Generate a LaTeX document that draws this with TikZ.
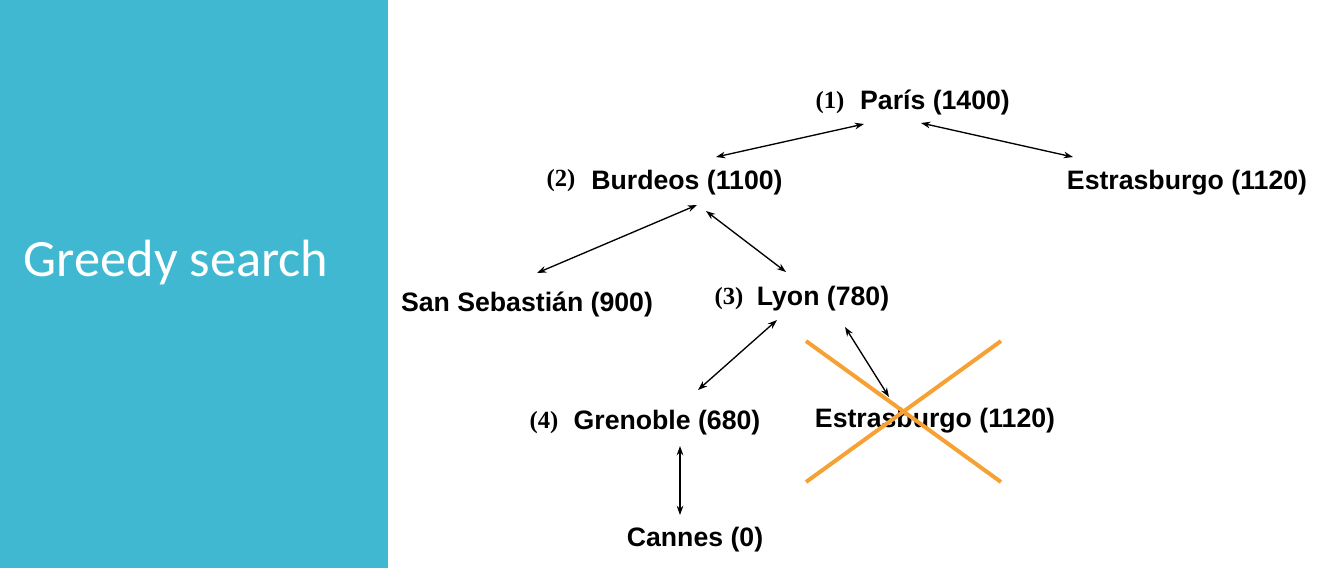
\documentclass[tikz,border=0pt]{standalone}
\usepackage{fontspec}
\usepackage{tikz}
\usepackage{xcolor}
\usetikzlibrary{arrows.meta}
\setmainfont{Liberation Sans}
\newfontfamily\numfont{Liberation Serif}
\newfontfamily\titlefont{Carlito}
\definecolor{panelblue}{HTML}{41B8D2}
\definecolor{crossorange}{HTML}{F7A034}

\tikzset{
	city/.style={font=\fontsize{20}{22}\selectfont\bfseries, inner sep=0pt, text height=14pt, text depth=0pt},
	order/.style={font=\numfont\fontsize{18.5}{20}\selectfont\bfseries, inner sep=0pt, text height=13pt, text depth=0pt},
	link/.style={{Stealth[length=7pt,width=5pt]}-{Stealth[length=7pt,width=5pt]}, line width=1pt},
	cross/.style={crossorange, line width=3pt},
}

\begin{document}
\begin{tikzpicture}[x=0.75pt,y=-0.75pt]
			\useasboundingbox (0,0) rectangle (1342,568);
			\fill[panelblue] (0,0) rectangle (388,568);
			\node[text=white, font=\titlefont\fontsize{39.3}{44}\selectfont] (title) at (176,263) {Greedy search};
			% cities with heuristic values
			\node[city] (paris) at (935,100) {París (1400)};
			\node[city] (burdeos) at (687,180) {Burdeos (1100)};
			\node[city] (estrA) at (1187,180) {Estrasburgo (1120)};
			\node[city] (sanseb) at (527,302) {San Sebastián (900)};
			\node[city] (lyon) at (823,296) {Lyon (780)};
			\node[city] (grenoble) at (667,420) {Grenoble (680)};
			\node[city] (estrB) at (935,418) {Estrasburgo (1120)};
			\node[city] (cannes) at (695,537) {Cannes (0)};
			% expansion order
			\node[order] (o1) at (830,100) {(1)};
			\node[order] (o2) at (561,178) {(2)};
			\node[order] (o3) at (729,296) {(3)};
			\node[order] (o4) at (544,420) {(4)};
			% links
			\draw[link] ([shift={(-71,24)}]paris.center) -- ([shift={(29,-23)}]burdeos.center);
			\draw[link] ([shift={(-14,23)}]paris.center) -- ([shift={(-114,-23)}]estrA.center);
			\draw[link] ([shift={(10,25)}]burdeos.center) -- ([shift={(10,-29)}]sanseb.center);
			\draw[link] ([shift={(19,31)}]burdeos.center) -- ([shift={(-37,-24)}]lyon.center);
			\draw[link] ([shift={(-46,24)}]lyon.center) -- ([shift={(31,-30)}]grenoble.center);
			\draw[link] ([shift={(22,31)}]lyon.center) -- ([shift={(-46,-21)}]estrB.center);
			\draw[link] ([shift={(13,26)}]grenoble.center) -- ([shift={(-15,-22)}]cannes.center);
			% rejected node
			\draw[cross] ([shift={(-129,-77)}]estrB.center) -- ([shift={(66,64)}]estrB.center);
			\draw[cross] ([shift={(-129,64)}]estrB.center) -- ([shift={(66,-77)}]estrB.center);
		\end{tikzpicture}
\end{document}
